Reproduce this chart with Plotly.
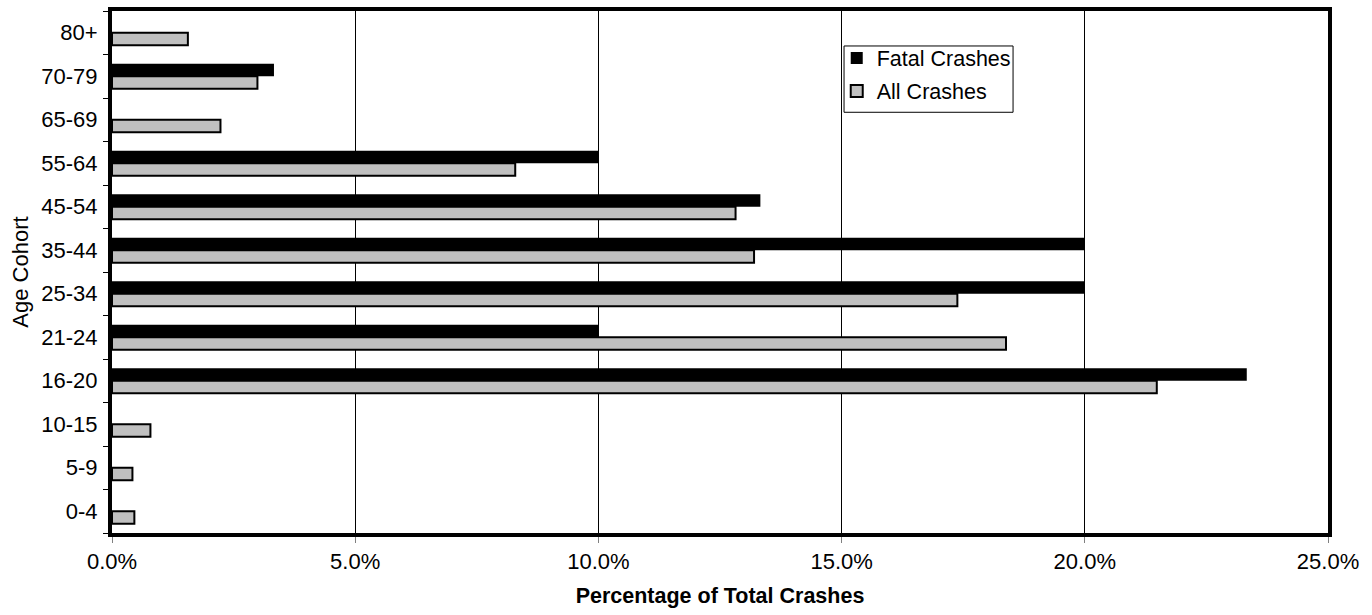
import plotly.graph_objects as go

# Age cohorts, bottom to top
age_cohorts = ["0-4", "5-9", "10-15", "16-20", "21-24", "25-34",
               "35-44", "45-54", "55-64", "65-69", "70-79", "80+"]

# Share of total crashes (%) per cohort
all_crashes = [0.46, 0.42, 0.79, 21.48, 18.38, 17.38,
               13.20, 12.82, 8.29, 2.23, 2.99, 1.56]
fatal_crashes = [0.0, 0.0, 0.0, 23.33, 10.0, 20.0,
                 20.0, 13.33, 10.0, 0.0, 3.33, 0.0]

x_tick_vals = [0, 5, 10, 15, 20, 25]
x_tick_text = ["0.0%", "5.0%", "10.0%", "15.0%", "20.0%", "25.0%"]

FONT = "Liberation Sans, Arial, sans-serif"

fig = go.Figure()
fig.add_trace(go.Bar(
    y=age_cohorts, x=all_crashes, orientation="h", name="All Crashes",
    marker=dict(color="#C0C0C0", line=dict(color="black", width=2)),
    legendrank=2, legendgroup="all",
))
fig.add_trace(go.Bar(
    y=age_cohorts, x=fatal_crashes, orientation="h", name="Fatal Crashes",
    marker=dict(color="black", line=dict(color="black", width=0)),
    legendrank=1, legendgroup="fatal",
))

# Frame around the legend entries
fig.add_shape(
    type="rect", xref="paper", yref="paper",
    x0=0.602, x1=0.741, y0=0.806, y1=0.933,
    line=dict(color="black", width=1), fillcolor="rgba(0,0,0,0)",
    layer="above",
)

fig.update_layout(
    width=1372, height=615,
    margin=dict(l=112, r=44, t=7, b=82),
    paper_bgcolor="white", plot_bgcolor="white",
    barmode="group", bargap=0.42, bargroupgap=0,
    font=dict(family=FONT, size=22, color="black"),
    legend=dict(
        x=0.596, y=0.949, xanchor="left", yanchor="top",
        borderwidth=0, bgcolor="rgba(0,0,0,0)",
        font=dict(size=21.5), tracegroupgap=2, itemwidth=30,
    ),
    xaxis=dict(
        range=[0, 25], tickvals=x_tick_vals, ticktext=x_tick_text,
        showgrid=True, gridcolor="black", gridwidth=1,
        showline=True, linecolor="black", linewidth=4, mirror=True,
        ticks="outside", ticklen=6, tickcolor="#808080", tickwidth=1,
        zeroline=False,
        title=dict(text="<b>Percentage of Total Crashes</b>", standoff=16,
                   font=dict(size=21.5)),
        tickfont=dict(size=22),
    ),
    yaxis=dict(
        categoryorder="array", categoryarray=age_cohorts,
        showline=True, linecolor="black", linewidth=4, mirror=True,
        ticks="outside", ticklen=5, tickcolor="black", tickwidth=1,
        tickson="boundaries", showgrid=False, ticklabelstandoff=6,
        title=dict(text="Age Cohort", standoff=8, font=dict(size=22)),
        tickfont=dict(size=22),
    ),
)

fig.write_html("out.html")
